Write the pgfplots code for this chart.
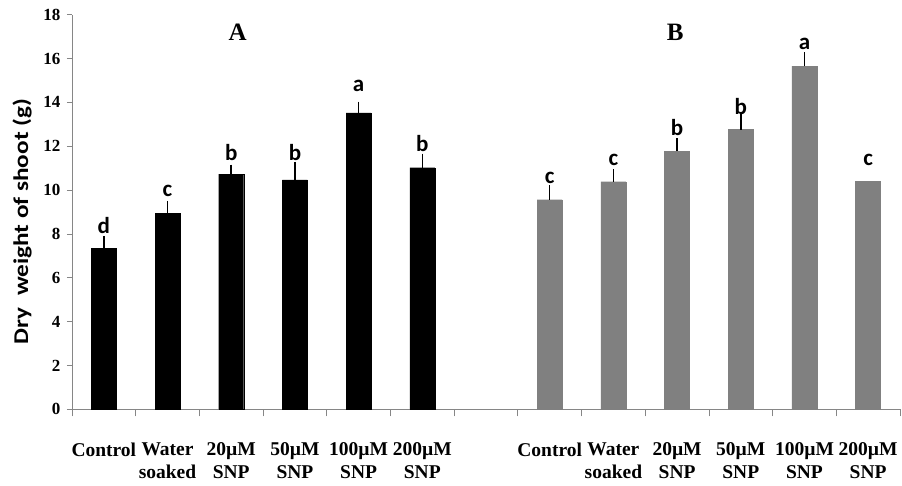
\documentclass[border=0pt]{standalone}
\usepackage{fontspec}
\setmainfont{Liberation Serif}
\newfontfamily\carlito{Carlito}
\usepackage{graphicx}
\usepackage{pgfplots}
\usepackage{pgfplotstable}
\pgfplotsset{compat=1.18}
\definecolor{barB}{RGB}{128,128,128}
\definecolor{axisgray}{RGB}{134,134,134}

% group A (black bars)
\pgfplotstableread{
x y err
0 7.34 0.41
1 8.94 0.41
2 10.73 0.27
3 10.46 0.67
4 13.52 0.35
5 11.02 0.48
}\groupA

% group B (grey bars)
\pgfplotstableread{
x y err
7 9.56 0.49
8 10.38 0.40
9 11.78 0.43
10 12.76 0.63
11 15.65 0.47
12 10.42 0
}\groupB

% significance letters (baseline height)
\pgfplotstableread{
x y l
0 8.03 d
1 9.70 c
2 11.37 b
3 11.33 b
4 14.49 a
5 11.75 b
7 10.31 c
8 11.11 c
9 12.51 b
10 13.47 b
11 16.39 a
12 11.14 c
}\letters

\begin{document}
\begin{tikzpicture}
\path[use as bounding box] (-72pt,-76.7pt) rectangle (830pt,409.3pt);
\begin{axis}[
    at={(0,0)}, anchor=south west
  , width=828pt, height=394.6pt, scale only axis
  , xmin=-0.5, xmax=12.5
  , ymin=0, ymax=18
  , axis lines*=left
  , axis line style={axisgray, line width=0.8pt}
  , ytick={0,2,...,18}
  , xtick={0,1,2,3,4,5,7,8,9,10,11,12}
  , xticklabels={Control, {Water\\soaked}, {20µM\\SNP}, {50µM\\SNP}, {100µM\\SNP}, {200µM\\SNP},
                 Control, {Water\\soaked}, {20µM\\SNP}, {50µM\\SNP}, {100µM\\SNP}, {200µM\\SNP}}
  , minor xtick={-0.5,0.5,...,12.5}
  , tick align=outside
  , major tick length=5pt
  , minor tick length=7pt
  , major x tick style={draw=none}
  , every tick/.style={axisgray, line width=0.8pt}
  , /pgf/number format/assume math mode=true
  , yticklabel style={font=\bfseries\fontsize{17}{17}\selectfont, xshift=-3pt}
  , xticklabel style={font=\bfseries\fontsize{19.5}{23}\selectfont, align=center, anchor=north, yshift=-25pt}
  , ylabel={\scalebox{1.2}[1]{Dry\ \ weight of shoot (g)}}
  , ylabel style={font=\carlito\bfseries\fontsize{21}{21}\selectfont, at={(axis description cs:-0.0604,0.476)}, anchor=center}
  , clip=false
  , error bars/error bar style={black, line width=1.6pt}
  , error bars/error mark options={black, line width=1.6pt, mark size=3.5pt}
  ]
\addplot[ybar, bar width=25pt, bar shift=0pt, fill=black, draw=black,
  error bars/.cd, y dir=plus, y explicit, error mark=-]
  table[x=x, y=y, y error=err] {\groupA};
\addplot[ybar, bar width=25pt, bar shift=0pt, fill=barB, draw=barB,
  skip coords between index={5}{6},
  error bars/.cd, y dir=plus, y explicit, error mark=-]
  table[x=x, y=y, y error=err] {\groupB};
\addplot[ybar, bar width=25pt, bar shift=0pt, fill=barB, draw=barB,
  skip coords between index={0}{5}]
  table[x=x, y=y] {\groupB};
\addplot[draw=none, mark=none, nodes near coords, point meta=explicit symbolic,
  every node near coord/.append style={anchor=base, inner sep=0pt, font=\carlito\bfseries\fontsize{23}{23}\selectfont}]
  table[x=x, y=y, meta=l] {\letters};
\node[font=\bfseries\fontsize{25}{25}\selectfont] at (axis cs:2.1,17.2) {A};
\node[font=\bfseries\fontsize{25}{25}\selectfont] at (axis cs:8.97,17.2) {B};
\end{axis}
\end{tikzpicture}
\end{document}
